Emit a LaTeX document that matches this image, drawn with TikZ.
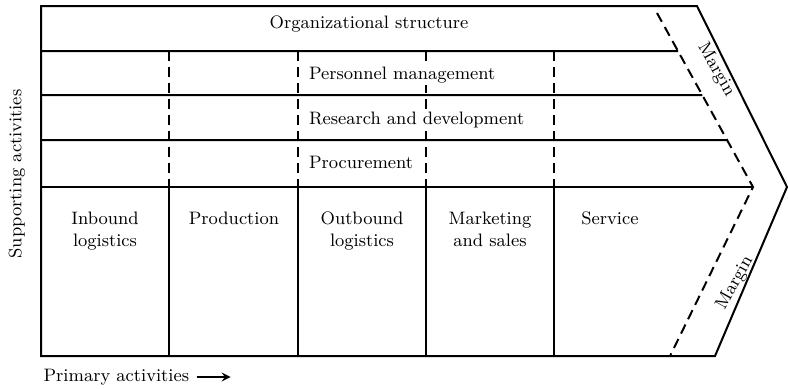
\documentclass[tikz,border=0pt]{standalone}
\usepackage{tikz}

\begin{document}
\begin{tikzpicture}[x=0.5pt,y=-0.5pt,line width=1pt,font=\fontsize{9}{11}\selectfont,
  dsh/.style={dash pattern=on 5pt off 3pt},
  supp/.style={anchor=west,fill=white,inner sep=1pt},
  prim/.style={anchor=north,align=center}]
  \useasboundingbox (0,0) rectangle (788,388);
  \coordinate (mt) at (657,13);
  \coordinate (mm) at (753,187);
  \coordinate (mb) at (670,356);
  \draw (41,6) -- (697,6) -- (787,187) -- (715,356) -- (41,356) -- cycle;
  \foreach \y in {51,95,140} {
    \coordinate (la) at (41,\y);
    \coordinate (lb) at (800,\y);
    \draw (la) -- (intersection of la--lb and mt--mm);
  }
  \draw (41,187) -- (mm);
  \draw[dsh] (mt) -- (mm) -- (mb);
  \foreach \x in {169,298,426,554} {
    \draw[dsh] (\x,51) -- (\x,187);
    \draw (\x,187) -- (\x,356);
  }
  \node (org) at (369,24) {Organizational structure};
  \node[supp] (pers) at (306,75) {Personnel management};
  \node[supp] (rd) at (306,120) {Research and development};
  \node[supp] (proc) at (306,162) {Procurement};
  \node[prim] (inb) at (105,204) {Inbound\\logistics};
  \node[prim] (prod) at (234,204) {Production};
  \node[prim] (outb) at (362,204) {Outbound\\logistics};
  \node[prim] (mark) at (490,204) {Marketing\\and sales};
  \node[prim] (serv) at (610,204) {Service};
  \node[rotate=-60] (mtop) at (716,70) {Margin};
  \node[rotate=61] (mbot) at (735,283) {Margin};
  \node[rotate=90] (suppact) at (17,174) {Supporting activities};
  \node[anchor=west] (pact) at (36,377) {Primary activities};
  \draw[-stealth] (pact.east) -- ++(34,0);
\end{tikzpicture}
\end{document}
